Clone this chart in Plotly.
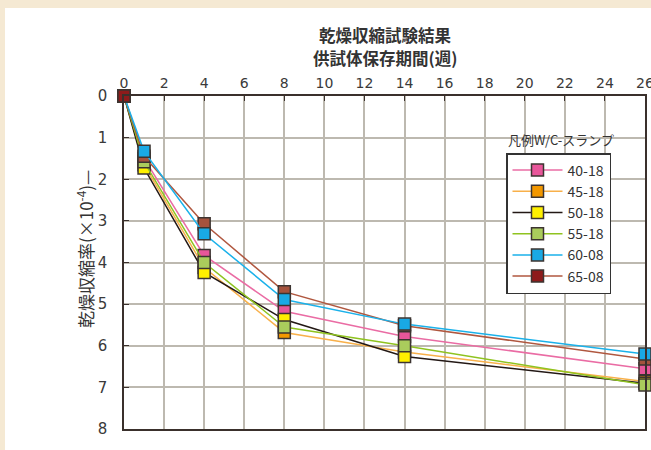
import plotly.graph_objects as go

weeks = [0, 1, 4, 8, 14, 26]
series_names = ["40-18", "45-18", "50-18", "55-18", "60-08", "65-08"]
s40_18 = [0, 1.50, 3.83, 5.17, 5.78, 6.55]
s45_18 = [0, 1.65, 4.12, 5.68, 6.15, 6.86]
s50_18 = [0, 1.73, 4.24, 5.37, 6.26, 6.90]
s55_18 = [0, 1.58, 4.00, 5.55, 6.00, 6.94]
s60_08 = [0, 1.33, 3.31, 4.89, 5.48, 6.20]
s65_08 = [0, 1.45, 3.07, 4.70, 5.52, 6.32]
x_ticks = list(range(0, 27, 2))
y_ticks = list(range(0, 9))

series_values = [s40_18, s45_18, s50_18, s55_18, s60_08, s65_08]
line_colors = ["#ea6ca4", "#f8b04a", "#231815", "#8fc31f", "#1ab1ea", "#b0573f"]
marker_colors = ["#e8569a", "#f39800", "#fff000", "#aacc5c", "#19a9e5", "#a5523d"]
start_marker_color = "#8e1b1b"
draw_order = [0, 1, 2, 3, 5, 4]

FONT = "Noto Sans CJK JP"
TICKFONT = "DejaVu Sans"
W, H = 651, 450
L, R, T, B = 124, 6, 96, 21
pw, ph = W - L - R, H - T - B

def px(x):
    return (x - L) / pw

def py(y):
    return (H - B - y) / ph

fig = go.Figure()
for i in draw_order:
    mc = marker_colors[i]
    if i == 5:
        mc = [start_marker_color] + [marker_colors[i]] * (len(weeks) - 1)
    fig.add_trace(go.Scatter(
        x=weeks, y=series_values[i], name=series_names[i], mode="lines+markers",
        line=dict(color=line_colors[i], width=1.5),
        marker=dict(symbol="square", size=12, color=mc,
                    line=dict(color="#3c3431", width=1.5)),
        cliponaxis=False, legendrank=i + 1,
    ))
# start point of 65-08 drawn on top of all
fig.add_trace(go.Scatter(
    x=weeks[:1], y=s65_08[:1], mode="markers", showlegend=False,
    marker=dict(symbol="square", size=12, color=start_marker_color,
                line=dict(color="#3c3431", width=1.5)),
    cliponaxis=False, hoverinfo="skip",
))

fig.update_layout(
    width=W, height=H,
    margin=dict(l=L, r=R, t=T, b=B),
    paper_bgcolor="#ffffff",
    plot_bgcolor="#ece8dc",
    font=dict(family=FONT, color="#333333", size=14),
    showlegend=True,
    legend=dict(
        x=px(506), y=py(153), xanchor="left", yanchor="top",
        bgcolor="#ffffff", bordercolor="#333333", borderwidth=1.5,
        font=dict(size=14, color="#333333", family=FONT),
        tracegroupgap=0, itemwidth=50,
    ),
    xaxis=dict(
        range=[0, 26], side="top", tickvals=x_ticks, ticktext=[str(v) for v in x_ticks],
        showgrid=True, gridcolor="#bdb9b0", gridwidth=1.5,
        showline=True, linecolor="#3a302c", linewidth=1.5, mirror=True,
        ticks="inside", ticklen=5, tickcolor="#3a302c",
        tickfont=dict(size=14, color="#3a3a3a", family=TICKFONT), ticklabelstandoff=1,
        ticklabeloverflow="allow", automargin=False, zeroline=False,
    ),
    yaxis=dict(
        range=[8, 0], tickvals=y_ticks, ticktext=[str(v) for v in y_ticks],
        showgrid=True, gridcolor="#bdb9b0", gridwidth=1.5,
        showline=True, linecolor="#3a302c", linewidth=1.5, mirror=True,
        ticks="inside", ticklen=5, tickcolor="#3a302c",
        tickfont=dict(size=15, color="#3a3a3a", family=TICKFONT), ticklabelstandoff=12,
        automargin=False, zeroline=False,
    ),
    shapes=[
        dict(type="rect", xref="paper", yref="paper", layer="below",
             x0=px(-5), x1=px(W + 5), y0=py(-5), y1=py(H + 5),
             fillcolor="#f5e9d3", line=dict(width=0)),
        dict(type="rect", xref="paper", yref="paper", layer="below",
             x0=px(5), x1=px(W + 5), y0=py(8), y1=py(H + 5),
             fillcolor="#ffffff", line=dict(width=0)),
    ],
    annotations=[
        dict(text="<b>乾燥収縮試験結果</b>", xref="paper", yref="paper",
             x=px(385), y=py(35), xanchor="center", yanchor="middle",
             showarrow=False, font=dict(size=16.5, color="#333333")),
        dict(text="<b>供試体保存期間(週)</b>", xref="paper", yref="paper",
             x=px(385), y=py(58), xanchor="center", yanchor="middle",
             showarrow=False, font=dict(size=16.5, color="#333333")),
        dict(text="乾燥収縮率(×10<sup>-4</sup>)—", xref="paper", yref="paper",
             x=px(85), y=py(249), xanchor="center", yanchor="middle",
             textangle=-90, showarrow=False,
             font=dict(size=17, color="#333333")),
        dict(text="凡例W/C-スランプ", xref="paper", yref="paper",
             x=px(561), y=py(139), xanchor="center", yanchor="middle",
             showarrow=False, font=dict(size=13, color="#333333")),
    ],
)

fig.write_html("out.html", config={"displayModeBar": False},
               post_script="document.body.style.margin='0';")
